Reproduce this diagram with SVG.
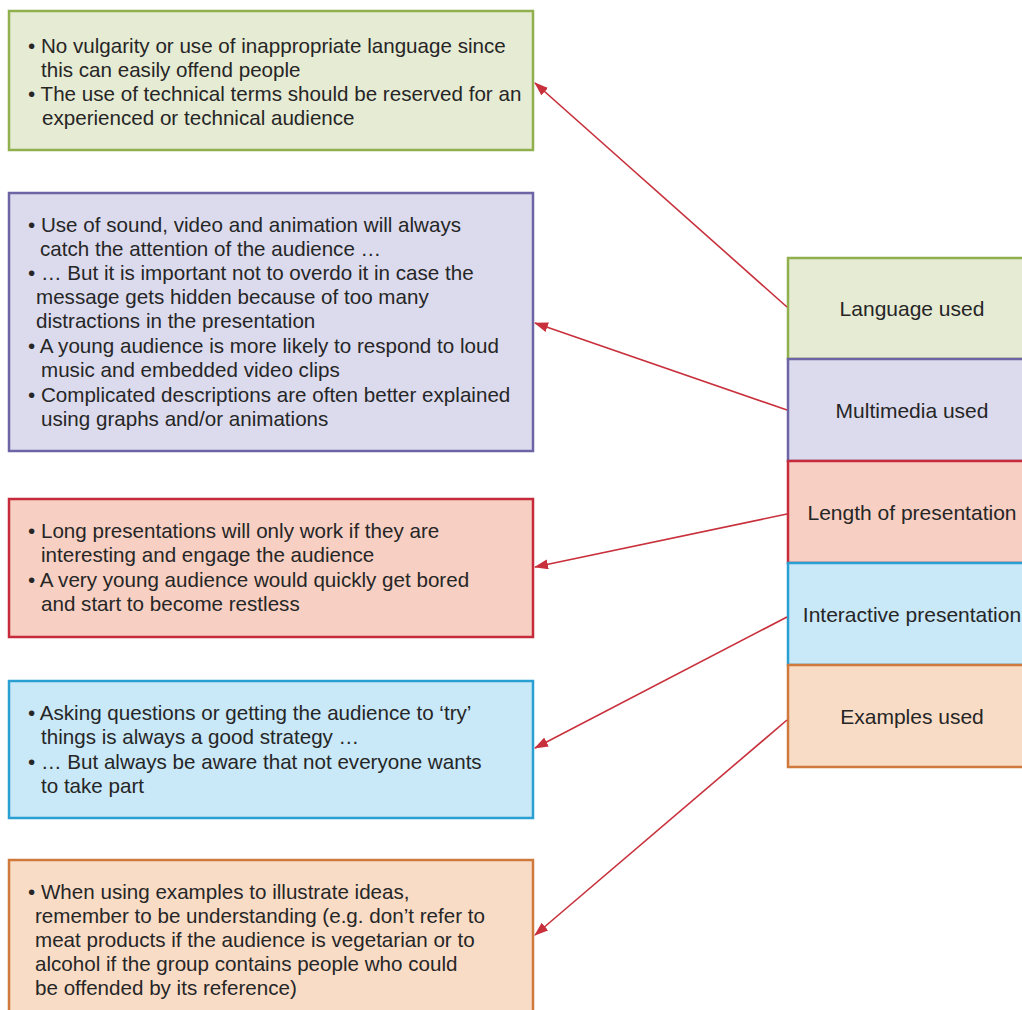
<svg xmlns="http://www.w3.org/2000/svg" width="1022" height="1010" viewBox="0 0 1022 1010">
<defs>
<style>
text{font-family:"Liberation Sans",Arial,sans-serif;font-size:20.6px;fill:#262626}
.lbl{text-anchor:middle;font-size:21px}
.box{stroke-width:2.5}
.g{fill:#e6ebd4;stroke:#8fb04c}
.p{fill:#dcdbee;stroke:#6c64a4}
.r{fill:#f7d0c3;stroke:#c52b3a}
.b{fill:#c9e8f8;stroke:#2a9fd2}
.o{fill:#f9dcc6;stroke:#cf7a3c}
.conn{stroke:#c8303c;stroke-width:1.6;fill:none;marker-end:url(#ah)}
</style>
<marker id="ah" markerUnits="userSpaceOnUse" markerWidth="14" markerHeight="10" refX="13" refY="5" orient="auto">
<path d="M0,0 L14,5 L0,10 Z" fill="#c8303c"/>
</marker>
</defs>
<rect width="1022" height="1010" fill="#ffffff"/>

<g id="detail-language">
<rect class="box g" x="9" y="11" width="524" height="139"/>
<text x="28" y="53">• No vulgarity or use of inappropriate language since</text>
<text x="41" y="77">this can easily offend people</text>
<text x="28" y="101">• The use of technical terms should be reserved for an</text>
<text x="42" y="125">experienced or technical audience</text>
</g>

<g id="detail-multimedia">
<rect class="box p" x="9" y="193" width="524" height="258"/>
<text x="28" y="232">• Use of sound, video and animation will always</text>
<text x="40" y="256">catch the attention of the audience …</text>
<text x="28" y="280">• … But it is important not to overdo it in case the</text>
<text x="36" y="304">message gets hidden because of too many</text>
<text x="36" y="328">distractions in the presentation</text>
<text x="28" y="353">• A young audience is more likely to respond to loud</text>
<text x="41" y="377">music and embedded video clips</text>
<text x="28" y="402">• Complicated descriptions are often better explained</text>
<text x="41" y="426">using graphs and/or animations</text>
</g>

<g id="detail-length">
<rect class="box r" x="9" y="499" width="524" height="138"/>
<text x="28" y="538">• Long presentations will only work if they are</text>
<text x="41" y="562">interesting and engage the audience</text>
<text x="28" y="587">• A very young audience would quickly get bored</text>
<text x="41" y="611">and start to become restless</text>
</g>

<g id="detail-interactive">
<rect class="box b" x="9" y="681" width="524" height="137"/>
<text x="28" y="720">• Asking questions or getting the audience to ‘try’</text>
<text x="41" y="744">things is always a good strategy …</text>
<text x="28" y="769">• … But always be aware that not everyone wants</text>
<text x="41" y="793">to take part</text>
</g>

<g id="detail-examples">
<rect class="box o" x="9" y="860" width="524" height="160"/>
<text x="28" y="899">• When using examples to illustrate ideas,</text>
<text x="35" y="923">remember to be understanding (e.g. don’t refer to</text>
<text x="35" y="947">meat products if the audience is vegetarian or to</text>
<text x="35" y="971">alcohol if the group contains people who could</text>
<text x="35" y="995">be offended by its reference)</text>
</g>

<g id="language-used">
<rect class="box g" x="788" y="258" width="240" height="101"/>
<text class="lbl" x="912" y="316">Language used</text>
</g>
<g id="multimedia-used">
<rect class="box p" x="788" y="359" width="240" height="102"/>
<text class="lbl" x="912" y="418">Multimedia used</text>
</g>
<g id="length-of-presentation">
<rect class="box r" x="788" y="461" width="240" height="102"/>
<text class="lbl" x="912" y="520">Length of presentation</text>
</g>
<g id="interactive-presentation">
<rect class="box b" x="788" y="563" width="240" height="102"/>
<text class="lbl" x="912" y="622">Interactive presentation</text>
</g>
<g id="examples-used">
<rect class="box o" x="788" y="665" width="240" height="102"/>
<text class="lbl" x="912" y="724">Examples used</text>
</g>

<g id="connectors">
<line class="conn" x1="787" y1="307" x2="535" y2="83"/>
<line class="conn" x1="787" y1="410" x2="535" y2="323"/>
<line class="conn" x1="787" y1="514" x2="535" y2="567"/>
<line class="conn" x1="787" y1="617" x2="535" y2="748"/>
<line class="conn" x1="787" y1="720" x2="535" y2="935"/>
</g>
</svg>
